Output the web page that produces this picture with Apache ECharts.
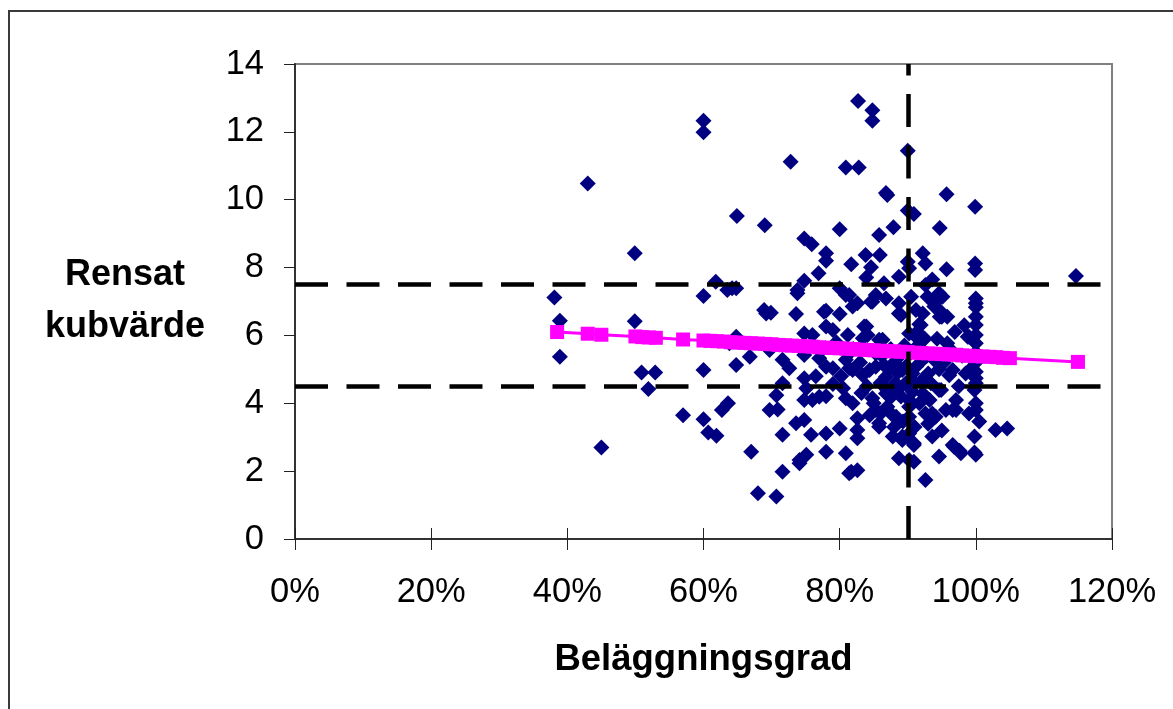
<!DOCTYPE html>
<html>
<head>
<meta charset="utf-8">
<script src="https://cdn.jsdelivr.net/npm/echarts@6/dist/echarts.min.js"></script>
<style>
html,body{margin:0;padding:0;background:#fff;}
#chart{width:1173px;height:709px;}
</style>
</head>
<body>
<div id="chart"></div>
<script>
// Beläggningsgrad (%) and Rensat kubvärde for each observation
const scatterPoints = [
[38.1,7.12],[38.9,6.43],[38.9,5.37],[43.0,10.48],[45.0,2.70],[49.9,8.42],[49.9,6.42],[50.9,4.91],[52.9,4.91],[51.9,4.42],
[57.0,3.65],[60.0,12.33],[60.0,11.99],[60.0,7.16],[60.0,4.98],[60.0,3.53],[60.7,3.14],[61.9,3.04],[61.8,7.58],[62.7,3.80],
[63.6,4.00],[63.5,7.34],[64.2,7.39],[64.8,7.39],[64.8,5.13],[64.8,5.96],[63.8,5.77],[64.9,9.52],[66.8,5.37],[67.0,2.57],
[68.0,1.35],[70.7,1.25],[68.9,6.75],[69.0,9.25],[69.9,6.67],[69.2,6.65],[69.7,5.57],[69.7,3.80],[70.9,3.82],[70.7,4.24],
[71.6,4.59],[71.6,5.28],[71.6,3.07],[71.6,1.98],[72.6,5.03],[72.8,11.12],[73.6,6.63],[73.8,7.34],[73.8,7.24],[73.6,3.41],
[74.1,2.23],[74.1,2.33],[74.8,8.86],[74.8,7.61],[74.8,6.06],[74.8,5.42],[74.8,4.74],[74.8,4.10],[74.8,3.51],[75.1,4.44],
[75.1,2.48],[75.9,8.69],[76.0,6.01],[76.0,4.10],[75.8,3.07],[76.9,7.83],[77.0,5.33],[77.0,4.19],[77.7,6.70],[78.0,8.42],
[78.0,8.20],[78.0,6.73],[78.0,6.26],[78.0,5.08],[78.0,4.21],[78.0,3.11],[78.0,2.57],[79.0,6.16],[79.0,5.03],[79.0,4.57],
[80.0,9.13],[80.0,7.39],[80.0,6.63],[80.0,3.26],[80.5,4.44],[80.9,10.95],[80.9,7.19],[80.9,5.28],[80.9,4.15],[80.9,2.53],
[81.2,6.01],[81.4,7.19],[81.4,5.47],[81.4,5.03],[81.4,1.94],[81.7,8.10],[81.7,1.98],[81.9,6.85],[81.9,4.98],[81.9,4.00],
[82.6,6.95],[82.6,3.56],[82.6,3.21],[82.6,2.97],[82.6,2.03],[82.7,12.91],[82.8,10.95],[83.4,5.92],[83.4,4.83],[83.6,6.26],
[83.8,8.37],[83.9,7.71],[83.9,6.26],[84.1,6.01],[84.4,4.98],[84.4,3.65],[84.6,8.01],[84.6,6.99],[84.8,12.64],[84.8,12.33],
[84.8,6.99],[84.8,4.15],[85.3,7.19],[85.3,5.47],[85.3,5.08],[85.3,3.80],[85.8,8.96],[85.8,5.87],[85.8,3.41],[85.8,3.31],
[85.9,8.37],[86.3,5.87],[86.5,7.54],[86.5,5.13],[86.8,10.20],[87.0,10.14],[86.8,7.09],[86.8,4.78],[86.8,4.29],[87.0,4.39],
[87.0,3.90],[87.8,3.65],[87.8,3.02],[87.9,9.19],[88.3,3.60],[88.5,4.39],[88.7,7.73],[88.7,6.95],[88.7,6.65],[88.7,5.37],
[88.7,2.38],[89.0,6.60],[89.2,4.98],[89.2,3.02],[89.2,2.92],[89.3,3.46],[89.7,4.59],[90.0,11.44],[90.0,9.68],[90.0,8.17],
[90.2,7.98],[90.2,6.06],[90.2,4.10],[90.2,3.90],[90.2,3.60],[90.2,3.11],[90.2,2.33],[90.5,7.14],[90.7,4.88],[90.7,4.34],
[90.9,9.58],[90.9,2.82],[90.9,2.77],[90.9,2.28],[91.2,6.75],[91.2,5.96],[91.2,5.08],[91.4,6.11],[91.7,4.00],[91.7,6.33],
[91.9,6.31],[92.2,8.42],[92.2,6.65],[92.2,5.28],[92.2,4.29],[92.2,4.70],[92.6,8.12],[92.6,7.49],[92.6,3.70],[92.6,1.74],
[92.9,7.14],[93.0,4.88],[93.4,4.59],[93.6,7.65],[93.6,3.02],[93.6,3.70],[93.9,6.95],[93.9,6.85],[94.1,3.60],[94.6,7.24],
[94.6,6.75],[94.6,5.00],[94.6,4.39],[94.6,2.43],[94.7,9.17],[94.7,6.55],[94.9,4.39],[95.0,6.55],[95.1,7.14],[95.6,3.80],
[95.7,10.16],[95.7,7.95],[95.8,6.55],[95.8,5.77],[96.1,4.83],[96.6,4.98],[96.6,3.80],[96.6,2.77],[96.8,2.72],[97.1,4.10],
[97.1,3.80],[97.6,2.60],[97.8,2.53],[98.5,4.88],[98.8,5.96],[99.0,3.70],[99.0,5.96],[99.8,4.39],[99.8,3.02],[99.8,2.55],
[99.9,9.79],[99.9,8.12],[99.9,7.93],[100.0,7.09],[100.0,6.95],[100.0,6.83],[100.0,6.55],[100.0,6.31],[100.0,6.01],[100.0,5.77],
[100.0,5.50],[100.0,5.20],[100.0,4.93],[100.0,4.74],[100.0,4.59],[100.0,4.00],[100.0,3.80],[100.0,2.48],[100.5,3.46],[102.9,3.21],
[104.6,3.26],[114.7,7.75],
[87.5,5.60],[88.0,5.20],[88.5,4.90],[87.2,5.00],[89.5,5.70],[89.8,5.10],[88.2,4.60],[87.6,4.20],[86.0,4.60],[86.2,5.40],
[89.0,4.20],[90.5,5.50],[91.0,4.60],[91.5,5.70],[92.5,5.90],[92.8,5.40],[93.2,4.10],[93.8,5.30],[94.3,5.90],[95.3,5.20],
[96.2,5.60],[96.9,6.10],[97.5,4.50],[98.0,5.40],[98.3,6.30],[99.2,5.00],[83.0,5.20],[84.0,4.50],[82.0,5.60],[79.5,5.80],
[77.5,5.60],[76.5,4.80],[80.2,4.80],[83.2,4.30],[85.0,4.00],[86.0,3.70],[88.0,3.30],[91.0,3.30],[93.0,3.40],[95.0,3.20]
];

// Trend series (pink squares)
const trendX = [38.5,43,45,50,51,52,53,57,
  60,61,62,63,64,65,66,67,68,69,70,71,72,73,74,75,76,77,78,79,80,81,82,83,84,85,86,87,88,89,90,
  91,92,93,94,95,96,97,98,99,100,101,102,103,104,105,115];
const trendY = [6.10,6.05,6.02,5.97,5.95,5.94,5.93,5.88,
  5.85,5.84,5.83,5.82,5.80,5.79,5.78,5.77,5.76,5.75,5.74,5.72,5.71,5.70,5.69,5.68,5.67,5.65,5.64,5.63,5.62,5.61,5.60,5.58,5.57,5.56,5.55,5.54,5.53,5.52,5.51,
  5.49,5.48,5.47,5.46,5.45,5.44,5.43,5.41,5.40,5.39,5.38,5.37,5.36,5.34,5.33,5.22];

// Reference lines
const hLines = [7.5, 4.5];
const vLines = [90];

// Axis ticks
const xMin = 0, xMax = 120, xStep = 20;
const yMin = 0, yMax = 14, yStep = 2;

const FONT = 'Liberation Sans, Arial, Helvetica, sans-serif';

const trendData = trendX.map((x, i) => [x, trendY[i]]);
const markData = [];
hLines.forEach(v => markData.push([{coord:[xMin, v]}, {coord:[xMax, v]}]));
vLines.forEach(v => markData.push([{coord:[v, yMin]}, {coord:[v, yMax]}]));

const chart = echarts.init(document.getElementById('chart'), null, {renderer:'canvas'});
chart.setOption({
  animation: false,
  backgroundColor: '#fff',
  grid: {left: 295, top: 64, right: 61, bottom: 170, show: true, borderColor: '#808080', borderWidth: 2, backgroundColor: 'transparent'},
  graphic: [{
    type: 'rect', silent: true, z: 0,
    shape: {x: 9, y: 11, width: 1400, height: 1000},
    style: {fill: 'none', stroke: '#3a3a3a', lineWidth: 2}
  }],
  xAxis: [{
    type: 'value', min: xMin, max: xMax, interval: xStep, position: 'bottom',
    name: 'Beläggningsgrad', nameLocation: 'middle', nameGap: 102,
    nameTextStyle: {fontFamily: FONT, fontSize: 36.5, fontWeight: 'bold', color: '#000'},
    axisLine: {show: true, onZero: false, lineStyle: {color: '#333', width: 2}},
    axisTick: {show: true, inside: false, length: 11, lineStyle: {color: '#222', width: 1}},
    axisLabel: {formatter: '{value}%', fontFamily: FONT, fontSize: 34.5, color: '#000', margin: 36},
    splitLine: {show: false}
  }, {
    type: 'value', min: xMin, max: xMax, interval: xStep, position: 'bottom', offset: 0,
    axisLine: {show: false, onZero: false},
    axisTick: {show: true, inside: true, length: 11, lineStyle: {color: '#222', width: 1}},
    axisLabel: {show: false},
    splitLine: {show: false}
  }],
  yAxis: {
    type: 'value', min: yMin, max: yMax, interval: yStep,
    name: 'Rensat\nkubvärde', nameLocation: 'middle', nameGap: 170, nameRotate: 0,
    nameTextStyle: {fontFamily: FONT, fontSize: 36, fontWeight: 'bold', color: '#000', lineHeight: 52, align: 'center'},
    axisLine: {show: true, onZero: false, lineStyle: {color: '#333', width: 2}},
    axisTick: {show: true, inside: false, length: 11, lineStyle: {color: '#222', width: 1}},
    axisLabel: {fontFamily: FONT, fontSize: 34.5, color: '#000', margin: 31},
    splitLine: {show: false}
  },
  series: [{
    type: 'scatter', z: 1, data: [], silent: true,
    markLine: {
      silent: true, symbol: ['none', 'none'], label: {show: false},
      lineStyle: {color: '#000', width: 4.5, type: [33, 18.5]},
      emphasis: {disabled: true},
      data: markData
    }
  }, {
    type: 'scatter', z: 3, data: scatterPoints,
    symbol: 'diamond', symbolSize: 16,
    itemStyle: {color: '#000080', opacity: 1}
  }, {
    type: 'line', z: 4, data: trendData,
    symbol: 'rect', symbolSize: 14, showSymbol: true,
    lineStyle: {color: '#FF00FF', width: 3},
    itemStyle: {color: '#FF00FF', opacity: 1}
  }]
});
</script>
</body>
</html>
